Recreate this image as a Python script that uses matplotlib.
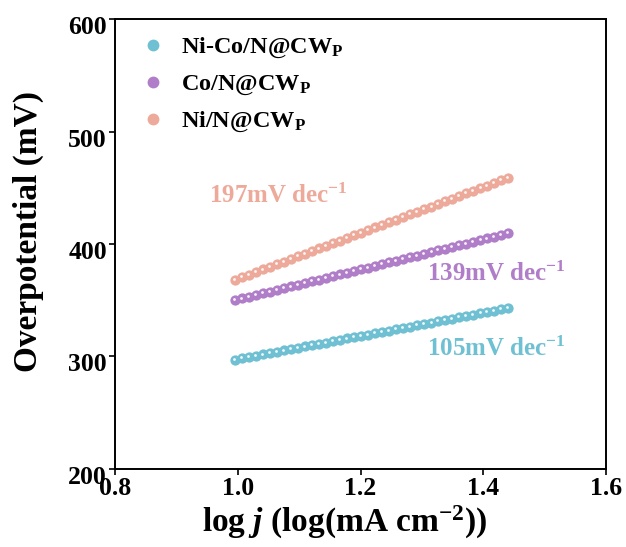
import numpy as np
import matplotlib
matplotlib.use("Agg")
import matplotlib.pyplot as plt
import matplotlib.transforms as mtransforms
from matplotlib.lines import Line2D
from matplotlib.legend_handler import HandlerTuple

# Tafel data: log j vs overpotential
log_j = [0.995, 1.006, 1.018, 1.029, 1.041, 1.052, 1.063, 1.075, 1.086, 1.098,
         1.109, 1.121, 1.132, 1.143, 1.155, 1.166, 1.178, 1.189, 1.200, 1.212,
         1.223, 1.235, 1.246, 1.257, 1.269, 1.280, 1.292, 1.303, 1.315, 1.326,
         1.337, 1.349, 1.360, 1.372, 1.383, 1.395, 1.406, 1.417, 1.429, 1.440]

eta_nico = [297.0, 298.2, 299.4, 300.5, 301.7, 302.9, 304.1, 305.3, 306.4, 307.6,
            308.8, 310.0, 311.2, 312.3, 313.5, 314.7, 315.9, 317.1, 318.2, 319.4,
            320.6, 321.8, 323.0, 324.1, 325.3, 326.5, 327.7, 328.9, 330.0, 331.2,
            332.4, 333.6, 334.8, 335.9, 337.1, 338.3, 339.5, 340.7, 341.8, 343.0]

eta_co = [350.0, 351.5, 353.1, 354.6, 356.1, 357.6, 359.2, 360.7, 362.2, 363.7,
          365.3, 366.8, 368.3, 369.8, 371.4, 372.9, 374.4, 375.9, 377.5, 379.0,
          380.5, 382.0, 383.6, 385.1, 386.6, 388.2, 389.7, 391.2, 392.7, 394.3,
          395.8, 397.3, 398.8, 400.4, 401.9, 403.4, 404.9, 406.5, 408.0, 409.5]

eta_ni = [368.0, 370.3, 372.7, 375.0, 377.3, 379.7, 382.0, 384.3, 386.7, 389.0,
          391.3, 393.7, 396.0, 398.3, 400.7, 403.0, 405.3, 407.7, 410.0, 412.3,
          414.7, 417.0, 419.3, 421.7, 424.0, 426.3, 428.7, 431.0, 433.3, 435.7,
          438.0, 440.3, 442.7, 445.0, 447.3, 449.7, 452.0, 454.3, 456.7, 459.0]

labels = ["Ni-Co/N@CW$_{\\mathbf{P}}$", "Co/N@CW$_{\\mathbf{P}}$", "Ni/N@CW$_{\\mathbf{P}}$"]
slopes = ["105mV dec$^{-1}$", "139mV dec$^{-1}$", "197mV dec$^{-1}$"]
colors = ["#6fc0d3", "#b07dc8", "#edaa9a"]

plt.rcParams["font.family"] = "Liberation Serif"
plt.rcParams["font.weight"] = "bold"
plt.rcParams["mathtext.fontset"] = "custom"
plt.rcParams["mathtext.rm"] = "Liberation Serif:bold"
plt.rcParams["mathtext.bf"] = "Liberation Serif:bold"
plt.rcParams["mathtext.it"] = "Liberation Serif:bold:italic"

fig = plt.figure(figsize=(6.26, 5.47), dpi=100)
ax = fig.add_axes([0.184, 0.143, 0.784, 0.822])


def sphere(x, y, c):
    # shaded ball: coloured disc plus a small white highlight
    ax.plot(x, y, "o", ms=7.4, color=c, mec="none", zorder=3)
    ax.plot(np.array(x) - 0.001, np.array(y) + 0.8, "o", ms=2.0,
            color="white", alpha=0.9, mec="none", zorder=4)


for eta, c in zip([eta_nico, eta_co, eta_ni], colors):
    sphere(log_j, eta, c)

ax.text(1.308, 306.5, slopes[0], color=colors[0], fontsize=18, va="center")
ax.text(1.308, 373, slopes[1], color=colors[1], fontsize=18, va="center")
ax.text(0.953, 443, slopes[2], color=colors[2], fontsize=18, va="center")

# legend balls built the same way as the data markers
handles = []
for c in colors:
    ball = Line2D([], [], ls="none", marker="o", ms=8.5, color=c, mec="none")
    shine = Line2D([], [], ls="none", marker="o", ms=2.6, color="white", alpha=0.9, mec="none")
    handles.append((ball, shine))
ax.legend(handles, labels, loc="upper left", frameon=False, fontsize=17.5,
          bbox_to_anchor=(0.0, 1.027), handletextpad=0.05, labelspacing=0.52,
          borderaxespad=0.8, handlelength=1.45,
          handler_map={tuple: HandlerTuple(ndivide=None, pad=0)})

ax.set_xlim(0.8, 1.6)
ax.set_ylim(200, 600)
ax.set_xticks([0.8, 1.0, 1.2, 1.4, 1.6])
ax.set_yticks([200, 300, 400, 500, 600])
ax.tick_params(direction="out", length=4, width=1.2, labelsize=18.5)
ax.tick_params(axis="x", pad=2)
ax.tick_params(axis="y", pad=2)
shift = mtransforms.ScaledTranslation(0, -6 / 100, fig.dpi_scale_trans)
for lab in ax.get_yticklabels():
    lab.set_transform(lab.get_transform() + shift)
for lab in ax.get_xticklabels() + ax.get_yticklabels():
    lab.set_fontweight("bold")
for sp in ax.spines.values():
    sp.set_linewidth(1.4)

ax.set_xlabel("log $j$ (log(mA cm$^{-2}$))", fontsize=24, fontweight="bold")
ax.xaxis.set_label_coords(0.468, -0.078)
ax.set_ylabel("Overpotential (mV)", fontsize=24, fontweight="bold")
ax.yaxis.set_label_coords(-0.145, 0.527)

fig.savefig("out.png", dpi=100)
